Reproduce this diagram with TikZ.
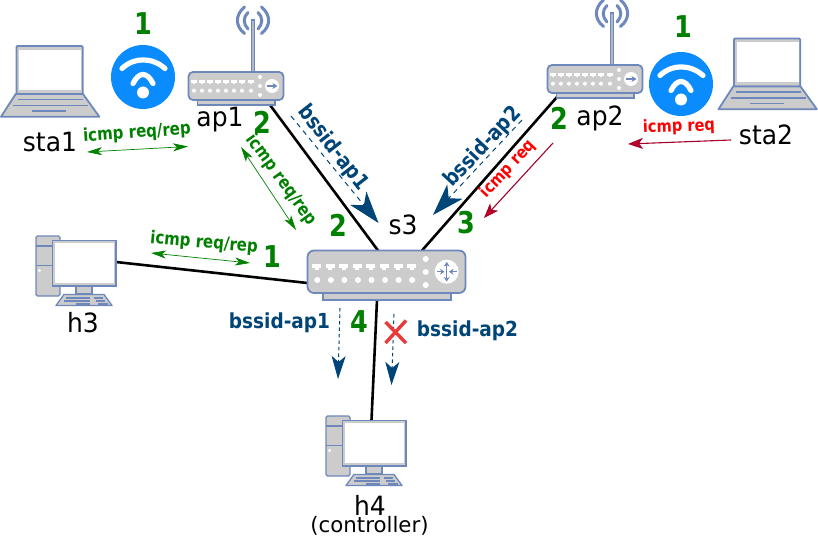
\documentclass[tikz,border=0pt]{standalone}
\usepackage{fontspec}
\setmainfont{DejaVu Sans}
\usetikzlibrary{arrows.meta}
\definecolor{devblue}{HTML}{6E88BB}
\definecolor{devgray}{HTML}{CCCCCC}
\definecolor{wifiblue}{HTML}{0A8CFF}
\definecolor{okgreen}{HTML}{008000}
\definecolor{navy}{HTML}{004578}
\definecolor{dkred}{HTML}{A5002A}
\definecolor{headred}{HTML}{C4002A}
\definecolor{crossred}{HTML}{E83A3A}
\tikzset{
  x=1pt,y=-1pt,
  devline/.style={draw=devblue,line width=1.8pt},
  link/.style={draw=black,line width=2.6pt},
  numlabel/.style={text=okgreen,font=\fontsize{30}{30}\selectfont\bfseries,inner sep=0pt,xscale=.85},
  namelabel/.style={text=black,font=\fontsize{25}{25}\selectfont,inner sep=0pt,yscale=1.06},
  greenlabel/.style={text=okgreen,font=\fontsize{15}{15}\selectfont\bfseries,inner sep=0pt,yscale=1.18},
  redlabel/.style={text=red,font=\fontsize{14.6}{14.6}\selectfont\bfseries,inner sep=0pt,yscale=1.15},
  navylabel/.style={text=navy,font=\fontsize{18.5}{18.5}\selectfont\bfseries,inner sep=0pt,yscale=1.15},
  bluelabel/.style={text=navy,font=\fontsize{18.5}{18.5}\selectfont\bfseries,inner sep=0pt,yscale=1.12},
  greenarrow/.style={draw=okgreen,line width=0.7pt,{Stealth[length=15pt,width=8pt,inset=4pt]}-{Stealth[length=15pt,width=8pt,inset=4pt]}},
  redarrow/.style={draw=dkred,line width=1.1pt,-{Stealth[length=15pt,width=11pt,inset=4pt,fill=headred]}},
  bigarrow/.style={draw=navy,line width=1pt,dash pattern=on 5pt off 4.5pt,-{Stealth[length=32pt,width=21pt,inset=9pt]}},
  smallarrow/.style={draw=navy,line width=1pt,dash pattern=on 3.5pt off 3pt,-{Stealth[length=23pt,width=14pt,inset=6pt]}},
  laptop/.pic={
    \begin{scope}[shift={(-50,-81)}]
      \path[devline,fill=devgray,rounded corners=1pt] (16.5,46) rectangle (82.7,94);
      \fill[white] (19,50) rectangle (81,90);
      \path[devline,fill=devgray,line join=round] (15.7,94) -- (83,94) -- (99.3,116.7) -- (1,116.7) -- cycle;
      \draw[devblue,line width=1.6pt] (18,99.5) -- (83,99.5) (13,105.7) -- (88,105.7) (32,111) -- (66,111);
    \end{scope}
  },
  wifiicon/.pic={
    \begin{scope}[shift={(-143,-77)}]
      \fill[wifiblue] (143,77) circle[radius=32];
      \draw[white,line width=5.2pt,line cap=round] (122,68.5) .. controls (134,57) and (152,57) .. (165,68.5);
      \draw[white,line width=5.2pt,line cap=round] (133,83.5) .. controls (139,71.5) and (147,71.5) .. (153,83.5);
      \fill[white] (143,92.5) circle[radius=6];
    \end{scope}
  },
  apicon/.pic={
    \begin{scope}[shift={(-236,-86)}]
      \draw[devblue,line width=4pt] (253,19) -- (253,72);
      \draw[devgray!70!devblue,line width=1.2pt] (253,21) -- (253,72);
      \draw[devblue,line width=3pt,line cap=round]
        (244.5,7) .. controls (235,15) and (235,26) .. (244.5,33.5)
        (248,12.5) .. controls (243,17) and (243,24) .. (248,29)
        (261.5,7) .. controls (271,15) and (271,26) .. (261.5,33.5)
        (258,12.5) .. controls (263,17) and (263,24) .. (258,29);
      \path[devline,fill=devgray] (197.5,100) rectangle (275,105);
      \path[devline,fill=devgray,rounded corners=4.5pt] (188.5,72) rectangle (283.5,100);
      \foreach \px in {194,202,210,218,226,234,242,251}{
        \fill[white] (\px-3,80) rectangle (\px+3,83);
        \fill[white] (\px-1.3,83) rectangle (\px+1.3,84.5);
      }
      \foreach \px in {194,202,210,218,226,234,242,251}
        \fill[white] (\px,90.7) circle[radius=2];
      \foreach \py in {77,86,95}
        \fill[white] (260,\py) circle[radius=2];
      \fill[white] (272,86) circle[radius=7];
      \draw[devblue,line width=1.2pt,-{Stealth[length=5pt,width=6pt]}] (266.5,86) -- (277.5,86);
    \end{scope}
  },
  switchicon/.pic={
    \begin{scope}[shift={(-386.5,-271.5)}]
      \path[devline,fill=devgray] (323,293) rectangle (451,300);
      \path[devline,fill=devgray,rounded corners=6.5pt] (307.5,250.5) rectangle (465.5,293);
      \foreach \k in {0,...,7}{
        \fill[white] (316.7+13.55*\k-4.5,263.5) rectangle (316.7+13.55*\k+4.5,268);
        \fill[white] (316.7+13.55*\k-2,268) rectangle (316.7+13.55*\k+2,270);
        \fill[white] (317.3+13.55*\k,280) circle[radius=3];
      }
      \foreach \py in {259,272,285}
        \fill[white] (425.7,\py) circle[radius=3];
      \fill[white] (446.7,271.7) circle[radius=12];
      \draw[devblue,line width=1.1pt,{Stealth[length=4.5pt,width=6pt]}-{Stealth[length=4.5pt,width=6pt]}] (446.7,262) -- (446.7,281.5);
      \draw[devblue,line width=1.1pt,-{Stealth[length=4.5pt,width=6pt]}] (436.5,271.7) -- (444.5,271.7);
      \draw[devblue,line width=1.1pt,-{Stealth[length=4.5pt,width=6pt]}] (457,271.7) -- (449,271.7);
    \end{scope}
  },
  pcicon/.pic={
    \begin{scope}[shift={(-76,-270)}]
      \path[draw=devblue,line width=1.3pt,fill=devgray,rounded corners=1.5pt] (36,236) rectangle (60,296);
      \draw[devblue,line width=1.3pt] (36,246) -- (60,246) (36,265.5) -- (60,265.5);
      \fill[white] (39.5,270.5) circle[radius=1.6];
      \path[draw=devblue,line width=1.3pt,fill=devgray] (76,286) rectangle (92,294);
      \path[draw=devblue,line width=1.3pt,fill=devgray,line join=round] (64,294.5) -- (104,294.5) -- (112,305.5) -- (56,305.5) -- cycle;
      \draw[devblue,line width=1.2pt] (66,298) -- (90,298) (64,301) -- (90,301) (76,304) -- (90,304) (94,298) -- (103,298) (96,301) -- (105,301) (98,304) -- (108,304);
      \path[draw=devblue,line width=1.5pt,fill=devgray] (52.5,240.5) rectangle (116,286);
      \fill[white] (55,243) rectangle (113.5,282.5);
    \end{scope}
  }
}
\begin{document}
\begin{tikzpicture}
\useasboundingbox (0,0) rectangle (818,537);
\fill[white] (0,0) rectangle (818,537);

% connectors' ends
\coordinate (ap1port) at (270,105);
\coordinate (s3a) at (378,250.5);
\coordinate (ap2port) at (557,97);
\coordinate (s3b) at (422,250.5);
\coordinate (h3port) at (116,262);
\coordinate (s3c) at (307.5,283);
\coordinate (s3d) at (377,300);
\coordinate (h4port) at (371.5,420);

\draw[link] (ap1port) -- (s3a);
\draw[link] (ap2port) -- (s3b);
\draw[link] (h3port) -- (s3c);
\draw[link] (s3d) -- (h4port);

% devices
\pic at (50,81) {laptop};
\pic at (767.5,73.5) {laptop};
\pic at (143,77) {wifiicon};
\pic at (681,84) {wifiicon};
\pic at (236,86) {apicon};
\pic at (595,79) {apicon};
\pic at (386.5,271.5) {switchicon};
\pic at (76,270) {pcicon};
\pic at (366,450) {pcicon};

% names
\node[namelabel] (sta1) at (50,142) {sta1};
\node[namelabel] (ap1) at (220,120) {ap1};
\node[namelabel] (ap2) at (600,118) {ap2};
\node[namelabel] (sta2) at (766,135) {sta2};
\node[namelabel] (s3) at (403,225) {s3};
\node[namelabel] (h3) at (83,323) {h3};
\node[namelabel] (h4) at (370,505) {h4};
\node[text=black,font=\fontsize{21.3}{21.3}\selectfont,inner sep=0pt] (ctrl) at (369.5,526) {(controller)};

% numbers
\node[numlabel] (n1a) at (143,24) {1};
\node[numlabel] (n2a) at (262,122) {2};
\node[numlabel] (n1b) at (683,27) {1};
\node[numlabel] (n2b) at (559,118) {2};
\node[numlabel] (n2c) at (338,225) {2};
\node[numlabel] (n3) at (466,223) {3};
\node[numlabel] (n1c) at (272,257) {1};
\node[numlabel] (n4) at (359,322) {4};

% green arrows
\coordinate (ga1) at (87,152); \coordinate (ga2) at (188,146.5);
\draw[greenarrow] (ga1) -- (ga2);
\node[rotate=4,greenlabel] (gl1) at (137,133) {icmp req/rep};
\coordinate (gb1) at (241,147); \coordinate (gb2) at (296,230);
\draw[greenarrow] (gb1) -- (gb2);
\node[rotate=-54,greenlabel] (gl2) at (281.5,180) {icmp req/rep};
\coordinate (gc1) at (151,253); \coordinate (gc2) at (250,263);
\draw[greenarrow] (gc1) -- (gc2);
\node[rotate=-5,greenlabel] (gl3) at (204,243) {icmp req/rep};

% red arrows
\coordinate (ra1) at (731,140); \coordinate (ra2) at (628,144);
\draw[redarrow] (ra1) -- (ra2);
\node[rotate=2,redlabel] (rl1) at (679,127) {icmp req};
\coordinate (rb1) at (553,143); \coordinate (rb2) at (484,218);
\draw[redarrow] (rb1) -- (rb2);
\node[rotate=47,redlabel] (rl2) at (508,169) {icmp req};

% navy arrows
\coordinate (na1) at (291,116); \coordinate (na2) at (378.5,223);
\draw[bigarrow] (na1) -- (na2);
\node[rotate=-52,navylabel] (nl1) at (333,148) {bssid-ap1};
\coordinate (nb1) at (522,120); \coordinate (nb2) at (433,215);
\draw[bigarrow] (nb1) -- (nb2);
\node[rotate=47,navylabel] (nl2) at (483,147) {bssid-ap2};
\coordinate (nc1) at (340,308); \coordinate (nc2) at (338,379);
\draw[smallarrow] (nc1) -- (nc2);
\node[bluelabel] (bl1) at (279.5,323) {bssid-ap1};
\coordinate (nd1) at (394,314); \coordinate (nd2) at (391.5,385);
\draw[smallarrow] (nd1) -- (nd2);
\node[bluelabel] (bl2) at (467.5,331) {bssid-ap2};

% cross
\draw[crossred,line width=3.4pt] (385.5,322) -- (406,343) (406,320.5) -- (385.5,343);
\end{tikzpicture}
\end{document}
